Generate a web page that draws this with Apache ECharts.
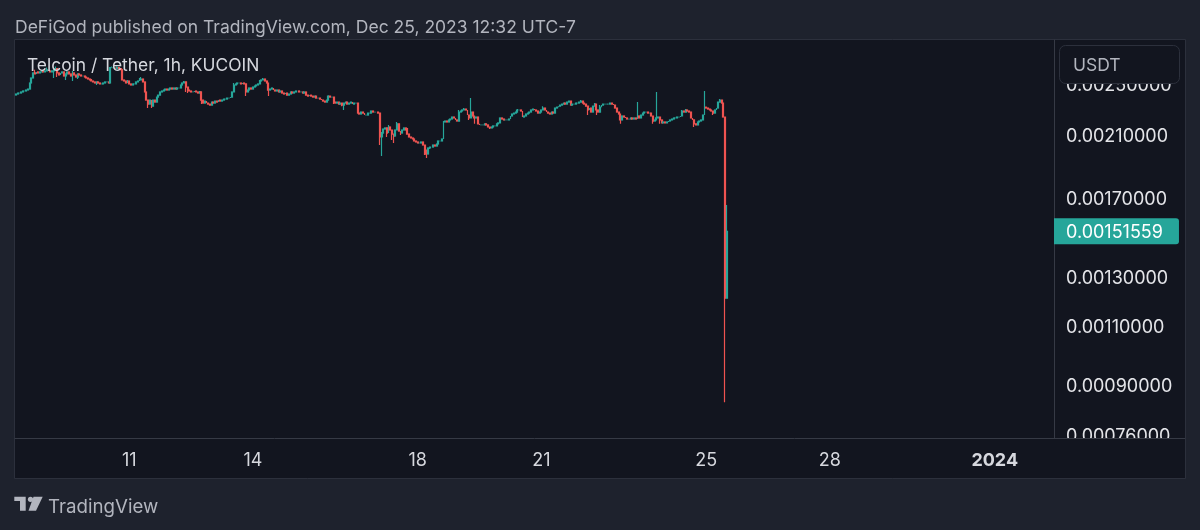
<!DOCTYPE html>
<html>
<head>
<meta charset="utf-8">
<style>html,body{margin:0;padding:0;background:#1e222d}#chart{width:1200px;height:530px}</style>
<script src="https://cdn.jsdelivr.net/npm/echarts@6/dist/echarts.min.js"></script>
</head>
<body>
<div id="chart"></div>
<script>
// hourly candles, prices in millionths of USDT
const firstOpen = 2405
const closes = [
  2413,2421,2421,2430,2438,2438,2446,2454,2505,2548,2592,2583,
  2601,2592,2601,2610,2601,2610,2620,2610,2601,2610,2620,2630,2592,
  2574,2592,2601,2565,2583,2601,2583,2565,2592,2574,2556,2583,
  2574,2565,2565,2556,2548,2539,2531,2522,2514,
  2505,2514,2505,2497,2497,2505,2514,2514,2505,
  2639,2639,2639,2630,2639,2630,2620,
  2531,2522,2505,2522,2497,2488,2497,2497,2514,2522,2531,2539,
  2514,2430,2364,2332,2364,2316,2364,2348,2388,2404,2430,
  2438,2446,2454,2446,2454,2463,2454,2463,2454,2463,2463,
  2488,2505,2514,2471,2446,
  2438,2430,2430,2438,2430,2421,2430,2364,
  2340,2356,2340,2332,2324,
  2348,2340,2356,2348,2364,2356,2364,2372,2372,2380,2380,2388,
  2430,2488,2497,2505,2505,2497,2505,2497,2430,2446,
  2463,2454,2471,2480,2488,2497,2522,2531,2539,2522,2505,2446,2454,
  2463,2446,2438,2446,2430,2438,2421,
  2413,2421,2404,2413,2430,2421,2430,2438,2438,2430,
  2430,2421,2430,2404,2396,2404,2396,2388,2396,2380,
  2380,2372,2364,2356,2348,2364,2396,2388,2388,2348,
  2340,2348,2332,2340,2324,2340,2348,2332,2340,2348,
  2332,2340,2340,2262,2255,2270,2262,2247,2247,2262,
  2262,2278,2270,2270,2270,2262,2086,2114,2143,2151,
  2114,2158,2136,2107,2093,2136,2181,2128,2114,2136,
  2151,2136,2107,2086,2079,2072,2058,2051,2044,2044,
  2051,2030,1996,1969,2010,2016,2016,2030,2023,2037,
  2058,2058,2072,2195,2202,2195,2210,2217,2232,2225,
  2210,2202,2270,2278,2286,2293,2286,2247,2225,2270,
  2240,2225,2232,2181,2173,2173,2173,2181,2173,2158,
  2151,2158,2166,2166,2181,2188,2225,2217,2210,2210,
  2210,2217,2240,2255,2262,2270,2286,2286,2278,2232,
  2240,2255,2262,2270,2286,2293,2286,2278,2262,2270,
  2286,2301,2286,2270,2262,2255,2270,2262,2301,2308,
  2316,2324,2332,2340,2332,2348,2356,2324,2332,2332,
  2340,2340,2348,2356,2340,2332,2316,2286,2301,2270,
  2316,2332,2286,2270,2308,2324,2332,2332,2332,2332,
  2340,2332,2324,2301,2270,2255,2210,2240,2232,2225,
  2217,2217,2225,2217,2225,2217,2240,2225,2247,2262,
  2270,2270,2262,2262,2240,2202,2210,2225,2232,2210,
  2188,2195,2188,2195,2202,2210,2217,2225,2225,2232,
  2232,2240,2278,2270,2286,2278,2270,2225,2210,2181,
  2173,2195,2202,2210,2247,2308,2301,2293,2286,2278,
  2262,2286,2301,2348,2364,2340,2232,1208,1515.59
]
// candles with a visible upper wick: index -> high
const highWicks = {
  11:2620,18:2639,23:2648,33:2610,44:2539,56:2648,59:2648,65:2531,72:2548,73:2556,
  98:2522,107:2438,127:2505,142:2531,144:2548,182:2404,213:2121,217:2173,222:2195,
  228:2151,249:2202,258:2286,261:2301,265:2380,292:2293,307:2316,329:2364,337:2340,
  340:2324,362:2348,373:2430,388:2286,390:2293,401:2438,410:2372,414:1656
}
// candles with a visible lower wick: index -> low
const lowWicks = {
  22:2548,24:2556,29:2531,33:2522,36:2539,47:2488,77:2301,79:2301,99:2430,100:2421,
  108:2332,134:2396,147:2396,185:2332,190:2316,191:2286,212:2030,213:1956,216:2086,
  219:2065,220:2044,224:2100,238:1962,239:1943,241:2003,264:2210,267:2181,276:2143,
  333:2247,338:2247,352:2181,371:2181,375:2181,395:2158,406:2247,413:849
}
const priceTicks = [0.0025, 0.0021, 0.0017, 0.0013, 0.0011, 0.0009, 0.00076]
const lastPrice = 0.00151559
const hourCount = 605
const dayTickIndex = [66, 138, 234, 306, 402, 474, 570]
const dayTickLabels = ['11', '14', '18', '21', '25', '28', '2024']

const panelColor = '#12151f'
const lineColor = '#363a45'
const upColor = '#26a69a'
const downColor = '#ef5350'
const fontName = 'Inter, "Noto Sans", sans-serif'

const categories = []
for (let i = 0; i < hourCount; i++) categories.push(i)

const candles = closes.map((close, i) => {
  const open = i === 0 ? firstOpen : closes[i - 1]
  const high = highWicks[i] || Math.max(open, close)
  const low = lowWicks[i] || Math.min(open, close)
  return [open / 1e6, close / 1e6, low / 1e6, high / 1e6]
})

const myChart = echarts.init(document.getElementById('chart'), null, { renderer: 'canvas' })
myChart.setOption({
  animation: false,
  backgroundColor: '#1e222d',
  title: [
    { text: 'DeFiGod published on TradingView.com, Dec 25, 2023 12:32 UTC-7', left: 10, top: 14,
      textStyle: { color: '#b2b5be', fontSize: 17.5, fontWeight: 'normal', fontFamily: fontName } },
    { text: 'Telcoin / Tether, 1h, KUCOIN', left: 22, top: 52, z: 20,
      textStyle: { color: '#d6d8de', fontSize: 17.4, fontWeight: 'normal', fontFamily: fontName } },
    { text: 'TradingView', left: 43, top: 493,
      textStyle: { color: '#b2b5be', fontSize: 18.7, fontWeight: 'normal', fontFamily: fontName } }
  ],
  grid: { left: 15, right: 146, top: 40, bottom: 92 },
  xAxis: {
    type: 'category',
    data: categories,
    axisLine: { lineStyle: { color: lineColor } },
    axisTick: { show: false },
    axisLabel: {
      interval: (i) => dayTickIndex.includes(i),
      color: '#d6d8de',
      fontSize: 18,
      fontFamily: fontName,
      margin: 14,
      formatter: (v, i) => {
        const label = dayTickLabels[dayTickIndex.indexOf(i)]
        return label === '2024' ? '{bold|' + label + '}' : label
      },
      rich: { bold: { fontWeight: 'bold', fontSize: 18, color: '#d6d8de', fontFamily: fontName } }
    },
    splitLine: { show: false }
  },
  yAxis: {
    type: 'log',
    position: 'right',
    min: 0.000752,
    max: 0.002898,
    axisLine: { show: true, lineStyle: { color: lineColor } },
    axisTick: { show: false },
    splitLine: { show: false },
    axisLabel: {
      customValues: [...priceTicks, lastPrice],
      color: '#e4e5e9',
      fontSize: 18,
      fontFamily: fontName,
      margin: 0,
      align: 'left',
      // last price gets the teal tag, the others sit a little lower like the reference
      formatter: (v) => {
        const text = Number(v).toFixed(8)
        return Math.abs(v - lastPrice) < 1e-9 ? '{last|' + text + '}' : '{tick|' + text + '}'
      },
      rich: {
        tick: { fontSize: 18, color: '#e4e5e9', fontFamily: fontName, padding: [4, 0, 0, 12] },
        last: {
          fontSize: 18, color: '#ffffff', fontFamily: fontName, backgroundColor: upColor,
          padding: [5, 16, 3, 12], borderRadius: [0, 3, 3, 0]
        }
      }
    }
  },
  series: [{
    type: 'candlestick',
    data: candles,
    barWidth: 1.4,
    itemStyle: {
      color: upColor, color0: downColor,
      borderColor: upColor, borderColor0: downColor, borderColorDoji: upColor,
      borderWidth: 1.2
    }
  }],
  graphic: [
    // panel behind the plot, border around it
    { type: 'rect', z: -10, shape: { x: 14.5, y: 39.5, width: 1171, height: 439 },
      style: { fill: panelColor, stroke: '#2c303c', lineWidth: 1 } },
    // hides what the bottom price label spills under the time axis
    { type: 'rect', z: 50, shape: { x: 1055, y: 438.5, width: 130, height: 39 }, style: { fill: panelColor } },
    { type: 'line', z: 51, shape: { x1: 1054, y1: 438.5, x2: 1185, y2: 438.5 }, style: { stroke: lineColor, lineWidth: 1 } },
    // currency button over the top of the price scale
    { type: 'rect', z: 50, shape: { x: 1059.5, y: 45.5, width: 120, height: 38, r: 6 },
      style: { fill: panelColor, stroke: '#2c303c', lineWidth: 1 } },
    { type: 'text', z: 51, style: { x: 1073, y: 57, text: 'USDT', fill: '#b2b5be', fontSize: 17.5, fontFamily: fontName } },
    // TradingView logo
    { type: 'polygon', z: 5, shape: { points: [[14.3, 496.7], [25.7, 496.7], [25.7, 510.7], [20, 510.7], [20, 501], [14.3, 501]] }, style: { fill: '#b2b5be' } },
    { type: 'circle', z: 5, shape: { cx: 30.5, cy: 499.3, r: 2.6 }, style: { fill: '#b2b5be' } },
    { type: 'polygon', z: 5, shape: { points: [[33.5, 496.7], [42.7, 496.7], [36, 510.7], [28.5, 510.7]] }, style: { fill: '#b2b5be' } }
  ]
})
</script>
</body>
</html>
